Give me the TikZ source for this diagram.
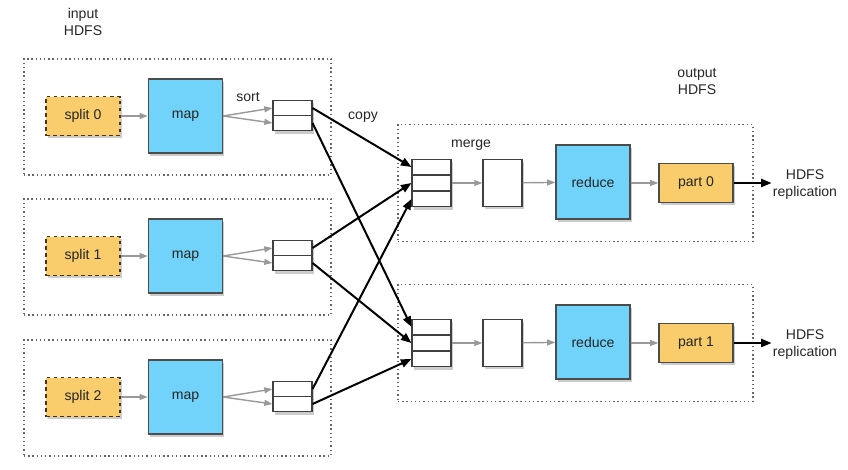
\documentclass[tikz,border=0pt]{standalone}
\usepackage{fontspec}
\setmainfont{Liberation Sans}
\usepackage{xcolor}
\usetikzlibrary{arrows.meta,positioning,shadows}
\definecolor{splitc}{RGB}{249,204,108}
\definecolor{mapc}{RGB}{114,211,250}

\begin{document}
\begin{tikzpicture}[
        x=0.03cm, y=-0.03cm,
        font=\fontsize{12}{14.5}\selectfont,
        text=black!85,
        >={Triangle[length=9pt,width=7pt]},
        group/.style={draw=black!60,line width=1.2pt,dash pattern=on 1.2pt off 2.4pt},
        shadowed/.style={drop shadow={shadow xshift=1.5pt,shadow yshift=-2.5pt,opacity=0.4}},
        split/.style={shadowed,rectangle,draw=brown!40!black,dashed,line width=1pt,fill=splitc,minimum width=2.22cm,minimum height=1.17cm,inner sep=0},
        mapbox/.style={shadowed,rectangle,draw=black!70,line width=1.1pt,fill=mapc,minimum width=2.22cm,minimum height=2.22cm,inner sep=0},
        cell/.style={shadowed,rectangle,draw=black!75,line width=0.9pt,fill=white,minimum width=1.17cm,minimum height=0.465cm,inner sep=0},
        part/.style={shadowed,rectangle,draw=black!70,line width=1.1pt,fill=splitc,minimum width=2.22cm,minimum height=1.17cm,inner sep=0},
        flow/.style={->,draw=black!40,line width=1.2pt,>={Triangle[length=7pt,width=5pt]}},
        copyarr/.style={->,line width=1.7pt}
    ]
        \useasboundingbox (0,0) rectangle (848,469);

        % map side
        \foreach \i/\y in {0/116,1/256,2/397}{
            \node[group,minimum width=9.21cm,minimum height=3.48cm] (in\i) at (177.5,\y+1) {};
            \node[split] (split\i) at (83,\y) {split \i};
            \node[mapbox] (map\i) at (185.5,\y) {map};
            \node[cell] (bufa\i) at (292.5,\y-8) {};
            \node[cell] (bufb\i) at (292.5,\y+7) {};
            \draw[flow] (split\i) -- (map\i);
            \draw[flow] (map\i.east) -- (bufa\i.west);
            \draw[flow] (map\i.east) -- (bufb\i.west);
        }

        % reduce side
        \foreach \j/\y in {0/183,1/343}{
            \node[group,minimum width=10.65cm,minimum height=3.5cm] (out\j) at (575.5,\y) {};
            \node[cell] (mergea\j) at (431.5,\y-16) {};
            \node[cell] (mergeb\j) at (431.5,\y) {};
            \node[cell] (mergec\j) at (431.5,\y+16) {};
            \node[cell,minimum height=1.41cm] (sorted\j) at (502.5,\y) {};
            \node[mapbox] (reduce\j) at (593,\y-1) {reduce};
            \node[part] (part\j) at (696,\y) {part \j};
            \node[align=center,inner sep=1pt] (repl\j) at (805,\y+2) {HDFS\\replication};
            \draw[flow] (mergeb\j) -- (sorted\j);
            \draw[flow] (sorted\j) -- (reduce\j);
            \draw[flow] (reduce\j.east|-part\j) -- (part\j);
            \draw[copyarr] (part\j) -- (repl\j.west|-part\j);
        }

        % shuffle
        \foreach \i/\k in {0/a,1/b,2/c}{
            \draw[copyarr] (bufa\i.east) -- (merge\k0.west);
            \draw[copyarr] (bufb\i.east) -- (merge\k1.west);
        }

        \node[align=center] (inlbl) at (83,22) {input\\HDFS};
        \node (sortlbl) at (248,97) {sort};
        \node (copylbl) at (363,117) {copy};
        \node (mergelbl) at (471,145) {merge};
        \node[align=center] (outlbl) at (697,82) {output\\HDFS};
    \end{tikzpicture}
\end{document}
